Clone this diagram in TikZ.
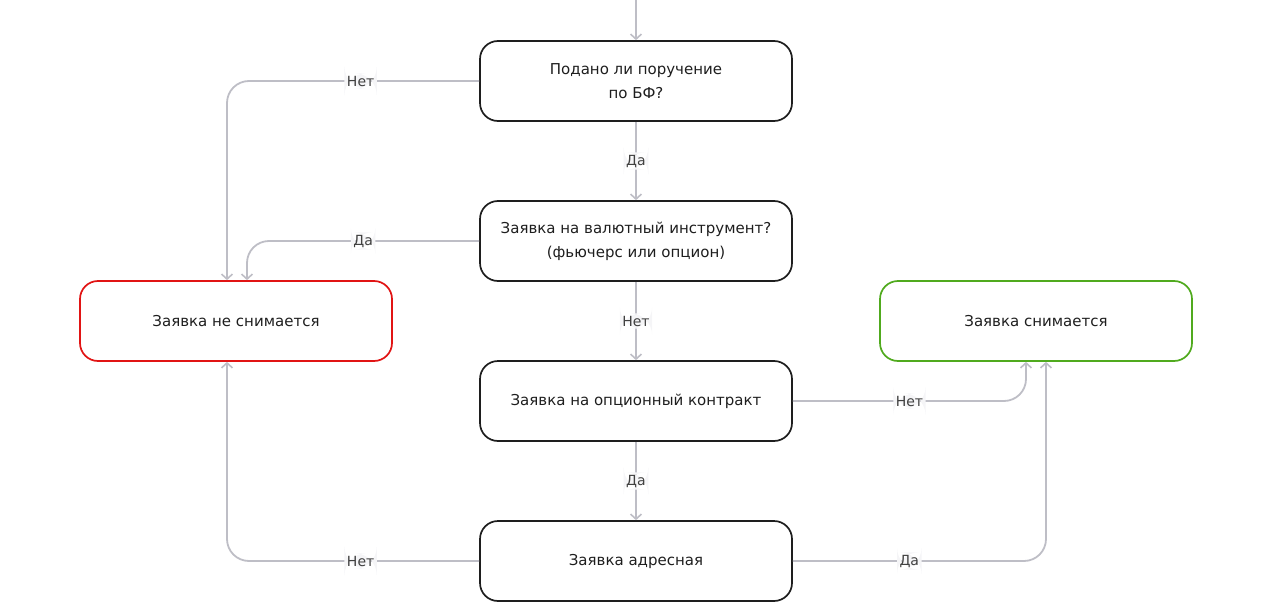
\documentclass[tikz,border=0pt]{standalone}
\usepackage{fontspec}
\setmainfont{DejaVu Sans}
\usetikzlibrary{arrows.meta}

\definecolor{wire}{RGB}{190,190,198}
\definecolor{lblbg}{RGB}{245,245,247}
\definecolor{boxred}{RGB}{225,20,20}
\definecolor{boxgreen}{RGB}{80,170,30}
\definecolor{ink}{RGB}{30,30,30}

\tikzset{
  stepbox/.style={draw=ink, line width=1.7pt, rounded corners=18pt,
    minimum width=312pt, minimum height=80pt, align=center,
    text=ink, font=\fontsize{15}{24}\selectfont},
  flow/.style={draw=wire, line width=1.8pt, rounded corners=22pt,
    -{Straight Barb[length=5pt,width=11pt,line width=1.6pt]}},
  lbl/.style={fill=lblbg, inner sep=2.5pt, text=ink!85,
    font=\fontsize{14}{16}\selectfont}
}

\begin{document}
\begin{tikzpicture}[x=1pt, y=-1pt]
  \useasboundingbox (0,0) rectangle (1272,602);
  % decisions
  \node[stepbox] (bf) at (636,81) {Подано ли поручение\\по БФ?};
  \node[stepbox] (fx) at (636,241) {Заявка на валютный инструмент?\\(фьючерс или опцион)};
  \node[stepbox] (opt) at (636,401) {Заявка на опционный контракт};
  \node[stepbox] (addr) at (636,561) {Заявка адресная};
  % outcomes
  \node[stepbox, draw=boxred] (keep) at (236,321) {Заявка не снимается};
  \node[stepbox, draw=boxgreen] (cancel) at (1036,321) {Заявка снимается};
  % entry
  \coordinate (entry) at (636,0);
  \draw[flow] (entry) -- (bf.north);
  % main chain
  \draw[flow] (bf.south) -- node[lbl] {Да} (fx.north);
  \draw[flow] (fx.south) -- node[lbl] {Нет} (opt.north);
  \draw[flow] (opt.south) -- node[lbl] {Да} (addr.north);
  % branches to the left
  \draw[flow] (bf.west) -- node[lbl, pos=0.47] {Нет} ([xshift=-9pt]keep.north |- bf.west)
              -- ([xshift=-9pt]keep.north);
  \draw[flow] (fx.west) -- node[lbl, pos=0.5] {Да} ([xshift=11pt]keep.north |- fx.west)
              -- ([xshift=11pt]keep.north);
  \draw[flow] (addr.west) -- node[lbl, pos=0.47] {Нет} ([xshift=-9pt]keep.south |- addr.west)
              -- ([xshift=-9pt]keep.south);
  % branches to the right
  \draw[flow] (opt.east) -- node[lbl, pos=0.5] {Нет} ([xshift=-10pt]cancel.south |- opt.east)
              -- ([xshift=-10pt]cancel.south);
  \draw[flow] (addr.east) -- node[lbl, pos=0.46] {Да} ([xshift=10pt]cancel.south |- addr.east)
              -- ([xshift=10pt]cancel.south);
\end{tikzpicture}
\end{document}
